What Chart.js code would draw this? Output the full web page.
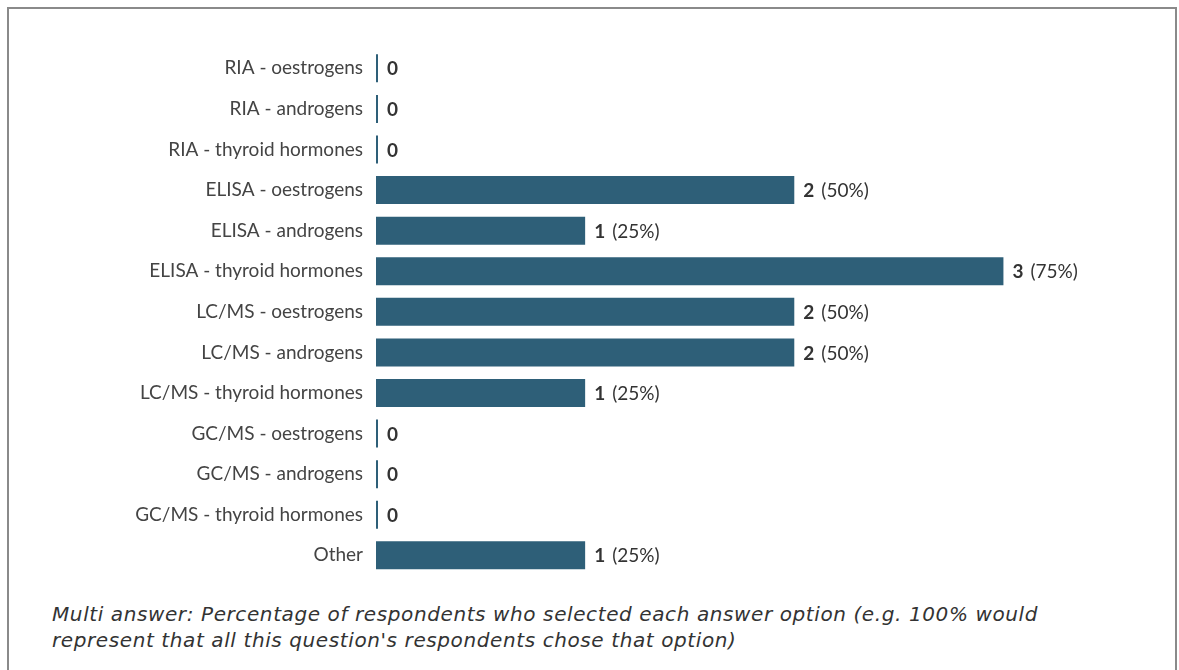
<!DOCTYPE html>
<html>
<head>
<meta charset="utf-8">
<script src="https://cdn.jsdelivr.net/npm/chart.js@4"></script>
<style>
  html, body { margin: 0; padding: 0; background: #fff; }
  body { width: 1179px; height: 670px; position: relative; overflow: hidden; }
  .frame { position: absolute; left: 7px; top: 7px; width: 1166px; height: 700px; border: 2px solid #8a8a8a; border-bottom: none; }
  .wrap { position: absolute; left: 0; top: 0; width: 1179px; height: 600px; }
  .note { position: absolute; left: 52px; top: 601px; font-family: "DejaVu Sans", sans-serif; font-style: italic; font-size: 20px; letter-spacing: 0.6px; line-height: 26px; color: #333; white-space: nowrap; }
</style>
</head>
<body>
<div class="frame"></div>
<div class="wrap"><canvas id="chart"></canvas></div>
<div class="note">Multi answer: Percentage of respondents who selected each answer option (e.g. 100% would<br>represent that all this question's respondents chose that option)</div>
<script>
const labels = ['RIA - oestrogens', 'RIA - androgens', 'RIA - thyroid hormones',
  'ELISA - oestrogens', 'ELISA - androgens', 'ELISA - thyroid hormones',
  'LC/MS - oestrogens', 'LC/MS - androgens', 'LC/MS - thyroid hormones',
  'GC/MS - oestrogens', 'GC/MS - androgens', 'GC/MS - thyroid hormones', 'Other'];
const counts = [0, 0, 0, 2, 1, 3, 2, 2, 1, 0, 0, 0, 1];
const percents = [0, 0, 0, 50, 25, 75, 50, 50, 25, 0, 0, 0, 25];

const valueLabels = {
  id: 'valueLabels',
  afterDatasetsDraw(chart) {
    const ctx = chart.ctx;
    const meta = chart.getDatasetMeta(0);
    ctx.save();
    ctx.textBaseline = 'middle';
    ctx.fillStyle = '#333';
    meta.data.forEach((bar, i) => {
      let x = bar.x + 9;
      const y = bar.y + 1;
      ctx.font = 'bold 19px Lato';
      const n = String(counts[i]);
      ctx.fillText(n, x, y);
      if (counts[i] > 0) {
        x += ctx.measureText(n).width + 7;
        ctx.font = '19px Lato';
        ctx.fillText('(' + percents[i] + '%)', x, y);
      }
    });
    ctx.restore();
  }
};

new Chart(document.getElementById('chart'), {
  type: 'bar',
  data: {
    labels: labels,
    datasets: [{
      data: counts,
      backgroundColor: '#2e5f78',
      barPercentage: 0.69,
      categoryPercentage: 1,
      minBarLength: 2
    }]
  },
  options: {
    indexAxis: 'y',
    responsive: true,
    maintainAspectRatio: false,
    animation: false,
    layout: { padding: { top: 48, bottom: 17, right: 71, left: 0 } },
    plugins: { legend: { display: false }, tooltip: { enabled: false } },
    scales: {
      x: { display: false, min: 0, max: 3.5 },
      y: {
        grid: { display: false, drawTicks: false },
        border: { display: false },
        ticks: { color: '#444', font: { family: 'Lato', size: 19 }, padding: 13 },
        afterFit(scale) { scale.width = 376; }
      }
    }
  },
  plugins: [valueLabels]
});
</script>
</body>
</html>
